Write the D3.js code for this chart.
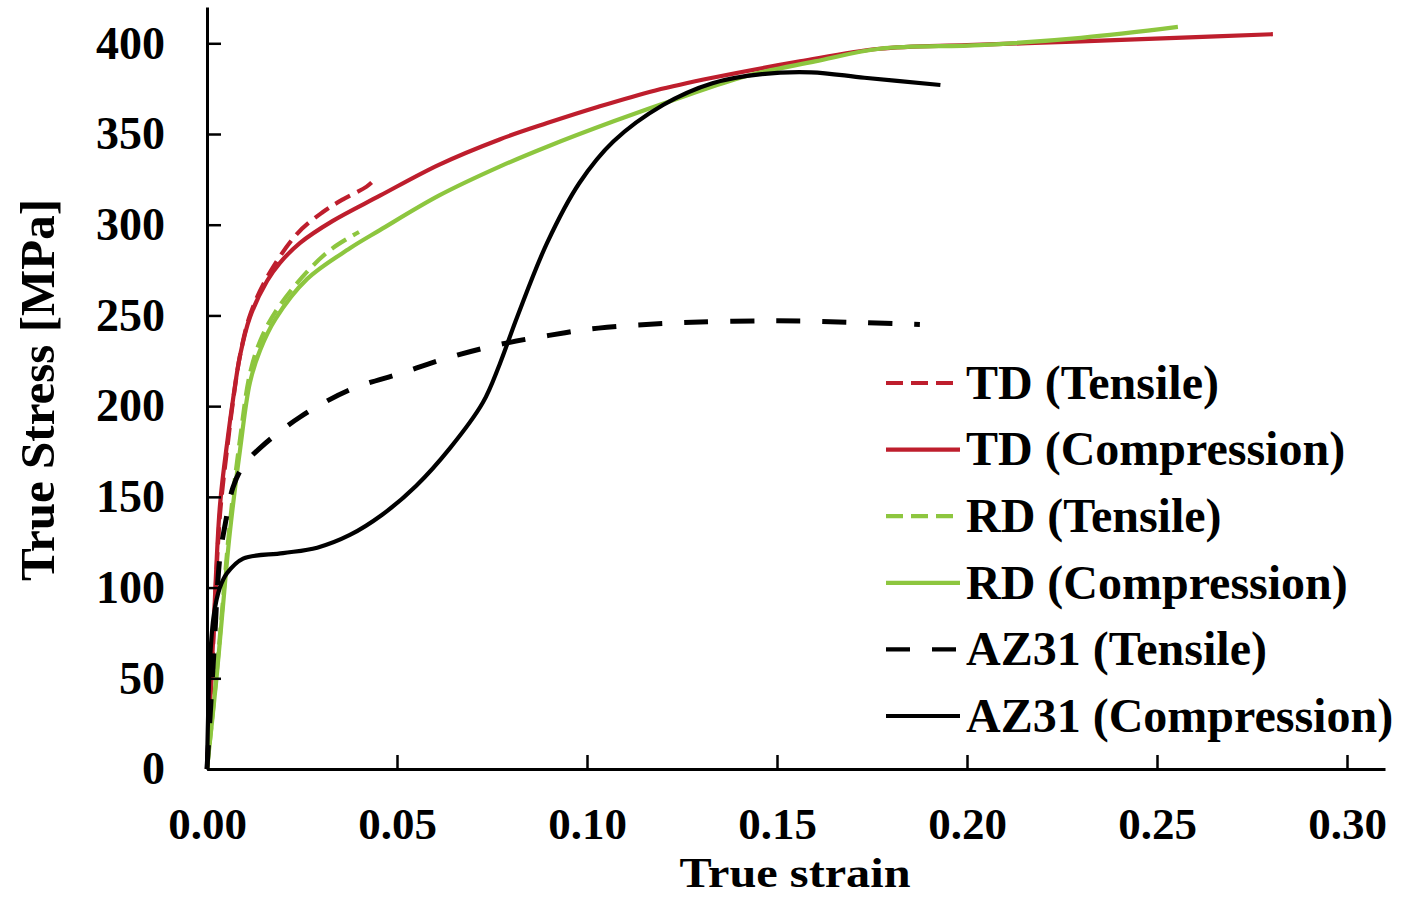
<!DOCTYPE html>
<html>
<head>
<meta charset="utf-8">
<script src="https://cdn.jsdelivr.net/npm/d3@7"></script>
<style>
  html, body { margin: 0; padding: 0; background: #fff; }
  svg { display: block; }
  text { font-family: "Liberation Serif", "Times New Roman", serif; font-weight: bold; fill: #000; }
</style>
</head>
<body>
<svg id="chart" width="1404" height="897"></svg>
<script>
// ---- Data ----
const xTicks = [0, 0.05, 0.10, 0.15, 0.20, 0.25, 0.30];
const yTicks = [0, 50, 100, 150, 200, 250, 300, 350, 400];
const xTitle = "True strain";
const yTitle = "True Stress [MPa]";

const seriesNames = ["TD (Tensile)", "TD (Compression)", "RD (Tensile)", "RD (Compression)", "AZ31 (Tensile)", "AZ31 (Compression)"];
const seriesColors = ["#be1e2d", "#be1e2d", "#8dc63f", "#8dc63f", "#000000", "#000000"];
const seriesDash = ["17,8", null, "17,8", null, "24,22", null];

const tdTensileStrain = [0, 0.0016, 0.0034, 0.0055, 0.0068, 0.0087, 0.0113, 0.0158, 0.0237, 0.0305, 0.0358, 0.042, 0.0437];
const tdTensileStress = [0, 68, 140, 180, 202, 228, 250, 271, 295, 307, 314, 321, 324];

const tdCompStrain = [0, 0.0016, 0.0034, 0.0055, 0.0068, 0.0087, 0.0113, 0.0158, 0.0192, 0.0245, 0.033, 0.0455, 0.061, 0.077, 0.0895, 0.103, 0.118, 0.133, 0.156, 0.177, 0.20, 0.23, 0.255, 0.2805];
const tdCompStress = [0, 71, 145, 183, 203, 228, 249, 269, 279, 290, 302, 316, 333, 347, 356, 365, 374, 381, 390, 397, 399, 401, 403, 405];

const rdTensileStrain = [0, 0.0025, 0.004, 0.006, 0.0087, 0.0113, 0.014, 0.018, 0.0263, 0.033, 0.040];
const rdTensileStress = [0, 52, 88, 135, 182, 218, 236, 252, 274, 287, 296];

const rdCompStrain = [0, 0.0025, 0.004, 0.006, 0.0087, 0.0113, 0.014, 0.018, 0.0263, 0.0376, 0.0455, 0.061, 0.077, 0.0895, 0.107, 0.1245, 0.142, 0.16, 0.177, 0.2034, 0.23, 0.2555];
const rdCompStress = [0, 50, 85, 130, 176, 213, 231, 248, 270, 287, 297, 316, 332, 343, 357, 370, 382, 390, 397, 399, 403, 409];

const az31TensileStrain = [0, 0.0017, 0.0034, 0.0048, 0.0068, 0.0095, 0.014, 0.0245, 0.0376, 0.0508, 0.064, 0.077, 0.09, 0.103, 0.125, 0.15, 0.173, 0.1876];
const az31TensileStress = [0, 60, 117, 135, 155, 167, 177, 194, 209, 218, 227, 234, 239, 243, 246, 247, 246, 245];

const az31CompStrain = [0, 0.0008, 0.0018, 0.0034, 0.0053, 0.0095, 0.02, 0.029, 0.0376, 0.046, 0.055, 0.064, 0.0726, 0.077, 0.0816, 0.0895, 0.098, 0.107, 0.12, 0.133, 0.146, 0.159, 0.173, 0.193];
const az31CompStress = [0, 60, 85, 100, 108, 116, 119, 122, 129, 140, 156, 177, 202, 223, 249, 290, 323, 346, 366, 378, 383, 384, 381, 377];

const seriesStrain = [tdTensileStrain, tdCompStrain, rdTensileStrain, rdCompStrain, az31TensileStrain, az31CompStrain];
const seriesStress = [tdTensileStress, tdCompStress, rdTensileStress, rdCompStress, az31TensileStress, az31CompStress];

// ---- Layout ----
const svg = d3.select("#chart");
const x = d3.scaleLinear().domain([0, 0.31]).range([207, 1385]);
const y = d3.scaleLinear().domain([0, 420]).range([769, 7]);

// curves
const line = d3.line().x(d => x(d[0])).y(d => y(d[1])).curve(d3.curveCatmullRom.alpha(0.5));
const series = seriesNames.map((n, i) => ({
  name: n, color: seriesColors[i], dash: seriesDash[i],
  pts: seriesStrain[i].map((s, j) => [s, seriesStress[i][j]])
}));

const gLines = svg.append("g");
gLines.selectAll("path").data(series).join("path")
  .attr("d", d => line(d.pts))
  .attr("fill", "none")
  .attr("stroke", d => d.color)
  .attr("stroke-width", d => d.name === "AZ31 (Tensile)" ? 5 : 4.2)
  .attr("stroke-dasharray", d => d.dash)
  .attr("stroke-linecap", "butt")
  .attr("stroke-linejoin", "round");

// axes
const xAxis = d3.axisBottom(x).tickValues(xTicks).tickFormat(d3.format(".2f"))
  .tickSizeInner(-14).tickSizeOuter(0).tickPadding(38);
const yAxis = d3.axisLeft(y).tickValues(yTicks).tickFormat(d3.format("d"))
  .tickSizeInner(-14).tickSizeOuter(0).tickPadding(42);

const gx = svg.append("g").attr("transform", "translate(0,769)").call(xAxis);
const gy = svg.append("g").attr("transform", "translate(207,0)").call(yAxis);
[gx, gy].forEach(g => {
  g.select(".domain").attr("stroke", "#000").attr("stroke-width", 3);
  g.selectAll(".tick line").attr("stroke", "#000").attr("stroke-width", 2.5);
  g.selectAll(".tick text")
    .style("font-family", '"Liberation Serif", "Times New Roman", serif')
    .style("font-weight", "bold")
    .style("font-size", "46px")
    .attr("fill", "#000");
});
gx.selectAll(".tick text").style("font-size", "45px");

// axis titles
svg.append("text")
  .attr("x", 795).attr("y", 887)
  .attr("text-anchor", "middle")
  .attr("textLength", 231)
  .attr("lengthAdjust", "spacingAndGlyphs")
  .style("font-size", "43px")
  .text(xTitle);

svg.append("text")
  .attr("transform", "translate(54,390) rotate(-90)")
  .attr("text-anchor", "middle")
  .style("font-size", "49px")
  .text(yTitle);

// legend
const legendTop = 383, legendStep = 66.6;
const gLeg = svg.append("g");
const rows = gLeg.selectAll("g").data(series).join("g")
  .attr("transform", (d, i) => `translate(0,${legendTop + i * legendStep})`);
rows.append("line")
  .attr("x1", 886).attr("x2", 960).attr("y1", 0).attr("y2", 0)
  .attr("stroke", d => d.color)
  .attr("stroke-width", 4.2)
  .attr("stroke-dasharray", d => d.dash);
rows.append("text")
  .attr("x", 966).attr("y", 0).attr("dy", "0.33em")
  .style("font-size", "48px")
  .text(d => d.name);
</script>
</body>
</html>
